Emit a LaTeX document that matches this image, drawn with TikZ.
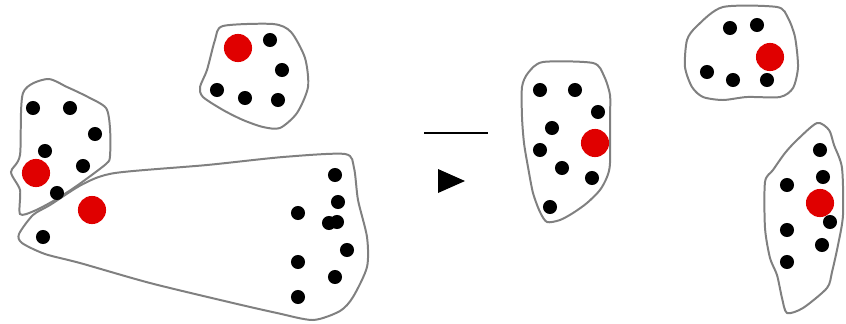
\documentclass[tikz,border=0pt]{standalone}
\begin{document}
\begin{tikzpicture}[x=0.03cm,y=-0.03cm,
  outline/.style={draw=gray,line width=1.7pt,smooth cycle,tension=0.45},
  blackdot/.style={fill=black},
  reddot/.style={fill=red!88!black}]
  \useasboundingbox (0,0) rectangle (846,323);

  % Left side: clusters before the step
  \draw[outline] plot coordinates {(23,93) (47,79) (67,87) (88,97) (106,108) (110,128) (110,156)
    (106,164) (78,185) (55,200) (34,211) (20,214) (20,190) (11,172) (20,155)};
  \draw[outline] plot coordinates {(223,26) (273,24) (291,32) (305,58) (308,87) (297,113)
    (280,128) (263,127) (243,120) (223,110) (203,97) (200,87) (207,70) (215,40)};
  \draw[outline] plot coordinates {(115,173) (207,165) (283,157) (345,154) (354,168) (358,200)
    (367,237) (367,267) (353,297) (340,311) (313,320) (277,313) (233,303) (150,283) (80,263)
    (45,254) (22,243) (19,234) (33,215) (50,205) (83,184)};

  % Points of the left clusters
  \foreach \p in {(33,108),(70,108),(95,134),(45,151),(83,166),(57,193),
                  (270,40),(282,70),(217,90),(245,98),(278,100),
                  (43,237),(335,175),(338,202),(298,213),(329,223),(337,222),
                  (347,250),(298,262),(335,277),(298,297)}
    \fill[blackdot] \p circle[radius=6pt];
  \foreach \p in {(36,173),(238,48),(92,210)}
    \fill[reddot] \p circle[radius=12pt];

  % Step sign
  \draw[line width=2.3pt] (424,133) -- (488,133);
  \fill (438,169) -- (465,181) -- (438,193) -- cycle;

  % Right side: clusters after the step
  \draw[outline] plot coordinates {(543,62) (593,63) (604,76) (610,95) (610,117) (610,163)
    (607,177) (600,190) (587,203) (573,213) (560,220) (547,222) (540,212) (533,193)
    (528,167) (524,143) (522,117) (522,87) (528,73)};
  \draw[outline] plot coordinates {(723,7) (777,7) (788,18) (795,37) (798,67) (793,88)
    (780,97) (747,97) (723,100) (703,97) (692,87) (685,67) (687,40) (697,26)};
  \draw[outline] plot coordinates {(817,123) (829,130) (834,145) (842,168) (843,215)
    (838,245) (832,272) (827,288) (803,308) (787,313) (782,298) (777,275) (770,258)
    (765,228) (765,182) (773,170) (785,153) (797,140)};

  % Points of the right clusters
  \foreach \p in {(540,90),(575,90),(598,112),(552,128),(540,150),(562,168),(592,178),(550,207),
                  (730,28),(757,25),(707,72),(733,80),(767,80),
                  (820,150),(823,177),(787,185),(830,222),(787,230),(822,245),(787,262)}
    \fill[blackdot] \p circle[radius=6pt];
  \foreach \p in {(595,143),(770,57),(820,203)}
    \fill[reddot] \p circle[radius=12pt];
\end{tikzpicture}
\end{document}
